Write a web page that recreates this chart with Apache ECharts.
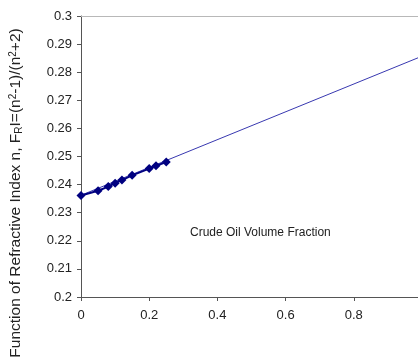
<!DOCTYPE html>
<html><head><meta charset="utf-8">
<script src="https://cdn.jsdelivr.net/npm/echarts@6/dist/echarts.min.js"></script>
<style>html,body{margin:0;padding:0;background:#fff}#c{width:418px;height:359px}</style>
</head><body><div id="c"></div>
<script>
var fractions = [0, 0.05, 0.08, 0.1, 0.12, 0.15, 0.2, 0.22, 0.25];
var fValues = [0.2361, 0.2378, 0.2393, 0.2405, 0.2416, 0.2433, 0.2457, 0.2467, 0.2480];
var trendX = [0, 1];
var trendY = [0.2362, 0.2857];
var yTicks = [0.2, 0.21, 0.22, 0.23, 0.24, 0.25, 0.26, 0.27, 0.28, 0.29, 0.3];
var xTicks = [0, 0.2, 0.4, 0.6, 0.8];

var chart = echarts.init(document.getElementById('c'), null, {renderer: 'canvas'});
var font = 'Liberation Sans, Arial, sans-serif';
chart.setOption({
  animation: false,
  grid: {left: 81, right: -4, top: 16, bottom: 62, show: false, containLabel: false, outerBoundsMode: 'none'},
  xAxis: [{
    type: 'value', min: 0, max: 1, interval: 0.2,
    axisLine: {show: true, onZero: false, lineStyle: {color: '#555', width: 1}},
    axisTick: {show: true, length: 4, lineStyle: {color: '#555'}},
    splitLine: {show: false},
    axisLabel: {
      margin: 12, color: '#222', fontFamily: font, fontSize: 13, showMaxLabel: false,
      formatter: function (v) { var r = +v.toFixed(2); return xTicks.indexOf(r) >= 0 ? String(r) : ''; }
    }
  }, {
    type: 'value', position: 'top', min: 0, max: 1,
    axisLine: {show: true, lineStyle: {color: '#b8b8b8', width: 1}},
    axisTick: {show: false}, axisLabel: {show: false}, splitLine: {show: false}
  }],
  yAxis: {
    type: 'value', min: 0.2, max: 0.3, interval: 0.01,
    axisLine: {show: true, onZero: false, lineStyle: {color: '#555', width: 1}},
    axisTick: {show: true, length: 4, lineStyle: {color: '#555'}},
    splitLine: {show: false},
    axisLabel: {
      margin: 9, color: '#222', fontFamily: font, fontSize: 13,
      formatter: function (v) { var r = +v.toFixed(2); return yTicks.indexOf(r) >= 0 ? String(r) : ''; }
    }
  },
  graphic: [{
    type: 'text', left: 190, top: 227,
    style: {text: 'Crude Oil Volume Fraction', fill: '#222', font: '12px ' + font}
  }, {
    type: 'text', x: 16, y: 193, rotation: Math.PI / 2,
    style: {
      text: 'Function of Refractive Index n, F{sub|R}I=(n{sup|2}-1)/(n{sup|2}+2)',
      fill: '#222', font: '15.5px ' + font, align: 'center', verticalAlign: 'middle',
      rich: {
        sub: {fontSize: 10, fontFamily: font, fill: '#222', verticalAlign: 'bottom', padding: [6, 0, 0, 0]},
        sup: {fontSize: 10, fontFamily: font, fill: '#222', verticalAlign: 'top', padding: [0, 0, 6, 0]}
      }
    }
  }],
  series: [{
    type: 'line',
    data: trendX.map(function (x, i) { return [x, trendY[i]]; }),
    showSymbol: false, symbol: 'none',
    lineStyle: {color: '#3838b0', width: 1},
    z: 2
  }, {
    type: 'line',
    data: fractions.map(function (x, i) { return [x, fValues[i]]; }),
    symbol: 'diamond', symbolSize: 9,
    itemStyle: {color: '#000080'},
    lineStyle: {color: '#000080', width: 2},
    clip: false,
    z: 3
  }]
});
</script></body></html>
